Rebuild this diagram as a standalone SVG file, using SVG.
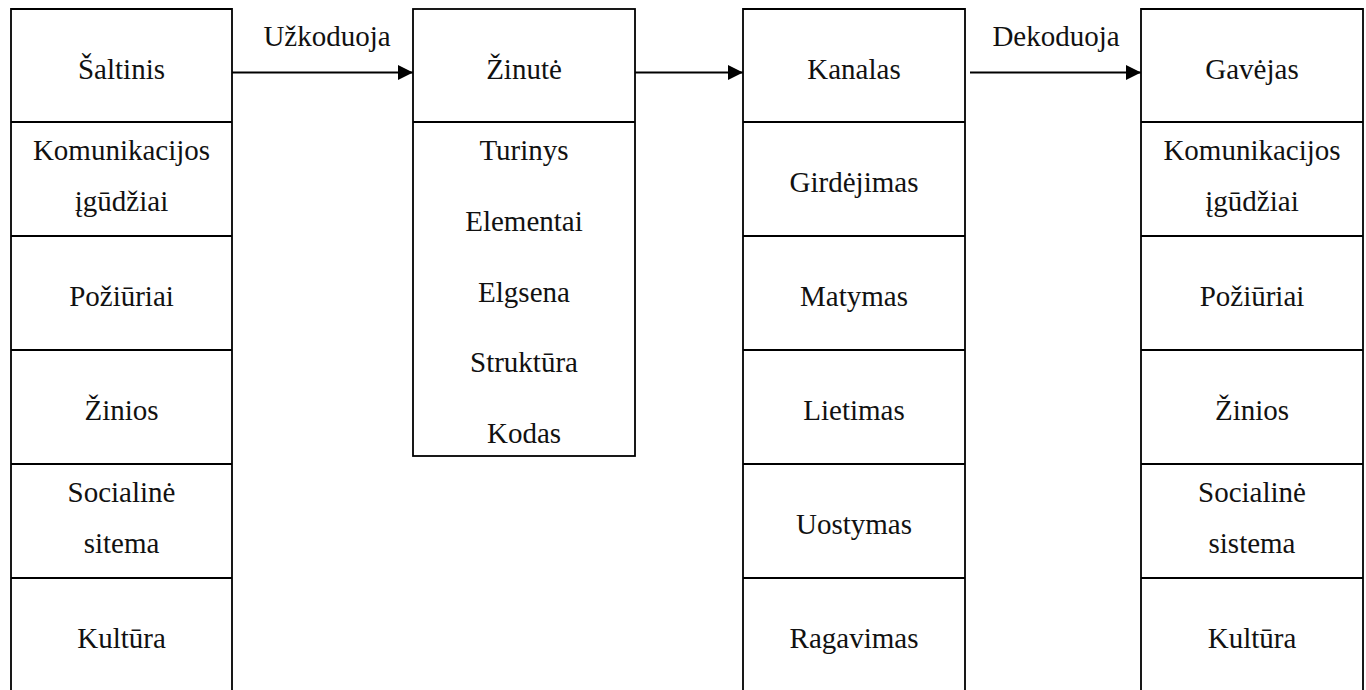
<svg xmlns="http://www.w3.org/2000/svg" width="1366" height="690" viewBox="0 0 1366 690">
  <style>
    .frame { fill: none; stroke: #000; stroke-width: 1.8; }
    .lbl { font-family: 'Liberation Serif', 'Times New Roman', Times, 'DejaVu Serif', serif; font-size: 29px; fill: #111; text-anchor: middle; }
    .conn { stroke: #000; stroke-width: 1.8; fill: none; marker-end: url(#head); }
  </style>
  <defs>
    <marker id="head" markerUnits="userSpaceOnUse" markerWidth="16" markerHeight="16" refX="15" refY="7.5" orient="auto">
      <path d="M0,0 L15,7.5 L0,15 Z" fill="#000"/>
    </marker>
  </defs>
  <rect width="1366" height="690" fill="#fff"/>

  <!-- Source column (open at the bottom) -->
  <g id="saltinis">
    <path class="frame" d="M11,690 V9 H232 V690 M11,122 H232 M11,236 H232 M11,350 H232 M11,464 H232 M11,578 H232"/>
    <text class="lbl" x="121.5" y="79">Šaltinis</text>
    <text class="lbl" x="121.5" y="160">Komunikacijos</text>
    <text class="lbl" x="121.5" y="210.5">įgūdžiai</text>
    <text class="lbl" x="121.5" y="306">Požiūriai</text>
    <text class="lbl" x="121.5" y="420">Žinios</text>
    <text class="lbl" x="121.5" y="502">Socialinė</text>
    <text class="lbl" x="121.5" y="552.5">sitema</text>
    <text class="lbl" x="121.5" y="648">Kultūra</text>
  </g>

  <!-- Message box -->
  <g id="zinute">
    <rect class="frame" x="413" y="9" width="222" height="447"/>
    <line class="frame" x1="413" y1="122" x2="635" y2="122"/>
    <text class="lbl" x="524" y="79">Žinutė</text>
    <text class="lbl" x="524" y="160">Turinys</text>
    <text class="lbl" x="524" y="230.5">Elementai</text>
    <text class="lbl" x="524" y="301.5">Elgsena</text>
    <text class="lbl" x="524" y="372">Struktūra</text>
    <text class="lbl" x="524" y="442.5">Kodas</text>
  </g>

  <!-- Channel column (open at the bottom) -->
  <g id="kanalas">
    <path class="frame" d="M743,690 V9 H965 V690 M743,122 H965 M743,236 H965 M743,350 H965 M743,464 H965 M743,578 H965"/>
    <text class="lbl" x="854" y="79">Kanalas</text>
    <text class="lbl" x="854" y="192">Girdėjimas</text>
    <text class="lbl" x="854" y="306">Matymas</text>
    <text class="lbl" x="854" y="420">Lietimas</text>
    <text class="lbl" x="854" y="534">Uostymas</text>
    <text class="lbl" x="854" y="648">Ragavimas</text>
  </g>

  <!-- Receiver column (open at the bottom) -->
  <g id="gavejas">
    <path class="frame" d="M1141,690 V9 H1363 V690 M1141,122 H1363 M1141,236 H1363 M1141,350 H1363 M1141,464 H1363 M1141,578 H1363"/>
    <text class="lbl" x="1252" y="79">Gavėjas</text>
    <text class="lbl" x="1252" y="160">Komunikacijos</text>
    <text class="lbl" x="1252" y="210.5">įgūdžiai</text>
    <text class="lbl" x="1252" y="306">Požiūriai</text>
    <text class="lbl" x="1252" y="420">Žinios</text>
    <text class="lbl" x="1252" y="502">Socialinė</text>
    <text class="lbl" x="1252" y="552.5">sistema</text>
    <text class="lbl" x="1252" y="648">Kultūra</text>
  </g>

  <!-- Connectors -->
  <g id="connectors">
    <line class="conn" x1="232" y1="72.5" x2="413" y2="72.5"/>
    <line class="conn" x1="635" y1="72.5" x2="743" y2="72.5"/>
    <line class="conn" x1="970" y1="72.5" x2="1141" y2="72.5"/>
    <text class="lbl" x="327" y="46">Užkoduoja</text>
    <text class="lbl" x="1056" y="46">Dekoduoja</text>
  </g>
</svg>
